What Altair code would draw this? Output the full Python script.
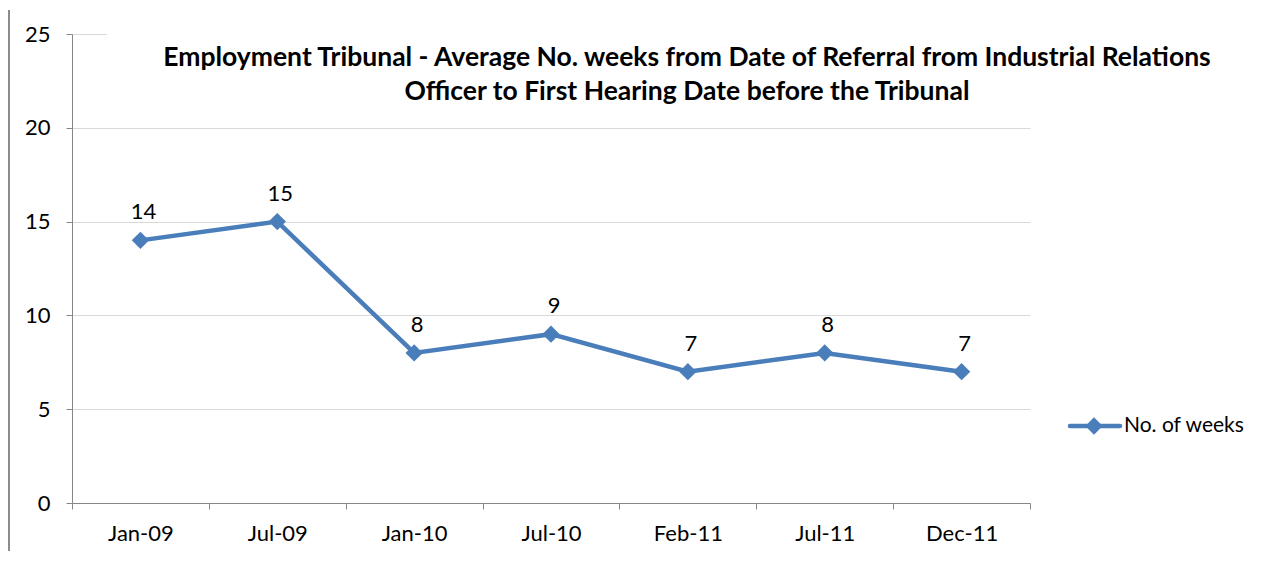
import altair as alt
import pandas as pd

categories = ["Jan-09", "Jul-09", "Jan-10", "Jul-10", "Feb-11", "Jul-11", "Dec-11"]
weeks = [14, 15, 8, 9, 7, 8, 7]
series_name = "No. of weeks"
title_lines = ["Employment Tribunal - Average No. weeks from Date of Referral  from Industrial Relations",
               "Officer to First Hearing Date before the Tribunal"]
y_ticks = [0, 5, 10, 15, 20, 25]

FONT = "Lato"
BLUE = "#4A7EBB"
W, H = 958, 469

df = pd.DataFrame({"cat": categories, "v": weeks})

x_enc = alt.X("cat:N", sort=categories, title=None,
              scale=alt.Scale(type="band", paddingInner=0, paddingOuter=0),
              axis=alt.Axis(labelAngle=0, tickBand="extent", tickSize=6, labelPadding=14,
                            domainColor="#868686", tickColor="#868686", grid=False,
                            labelFont=FONT, labelFontSize=22, labelColor="#000000"))
y_enc = alt.Y("v:Q", title=None,
              scale=alt.Scale(domain=[0, 25], nice=False),
              axis=alt.Axis(values=y_ticks, tickSize=6, labelPadding=16,
                            domainColor="#868686", tickColor="#868686",
                            grid=True, gridColor="#D9D9D9", gridWidth=1,
                            labelFont=FONT, labelFontSize=22, labelColor="#000000"))

base = alt.Chart(df)

line = base.mark_line(color=BLUE, strokeWidth=4.5).encode(x=x_enc, y=y_enc)
pts = base.mark_point(shape="diamond", filled=True, color=BLUE, size=300, opacity=1).encode(x=x_enc, y=y_enc)
labels = base.mark_text(font=FONT, fontSize=22, color="#000000", dy=-28, dx=3, baseline="middle").encode(
    x=x_enc, y=y_enc, text="v:Q")

# white backing for the title box (hides the top gridline like the original)
tbox = alt.Chart(pd.DataFrame({"a": [0]})).mark_rect(color="white", clip=False).encode(
    x=alt.value(35), x2=alt.value(1175), y=alt.value(-8), y2=alt.value(78))
title = alt.Chart(pd.DataFrame({"t": ["\n".join(title_lines)]})).mark_text(
    font=FONT, fontSize=26.5, fontWeight="bold", color="#000000", lineBreak="\n",
    lineHeight=34, align="center", baseline="middle", clip=False).encode(
    x=alt.value(615), y=alt.value(24), text="t:N")

# chart frame (left edge; the others fall outside the picture)
one = pd.DataFrame({"a": [0]})
frame_l = alt.Chart(one).mark_rule(color="#8C8C8C", strokeWidth=2, clip=False).encode(
    x=alt.value(-63), x2=alt.value(-63), y=alt.value(-24), y2=alt.value(520))

# legend
lg = pd.DataFrame({"s": [series_name]})
lg_line = alt.Chart(lg).mark_rule(color=BLUE, strokeWidth=4.5, strokeCap="round", clip=False).encode(
    x=alt.value(998), x2=alt.value(1048), y=alt.value(392), y2=alt.value(392))
lg_pt = alt.Chart(lg).mark_point(shape="diamond", filled=True, color=BLUE, size=300, opacity=1, clip=False).encode(
    x=alt.value(1022), y=alt.value(392))
lg_txt = alt.Chart(lg).mark_text(font=FONT, fontSize=21, color="#000000", align="left", baseline="middle", clip=False).encode(
    x=alt.value(1052), y=alt.value(392), text="s:N")

chart = alt.layer(frame_l, line, pts, labels, tbox, title, lg_line, lg_pt, lg_txt).properties(
    width=W, height=H,
    autosize=alt.AutoSizeParams(type="none"),
    padding={"left": 64, "top": 26, "right": 220, "bottom": 48},
    background="white",
).configure_view(stroke=None)

chart.save("out.html", embed_options={"renderer": "svg", "actions": False})
